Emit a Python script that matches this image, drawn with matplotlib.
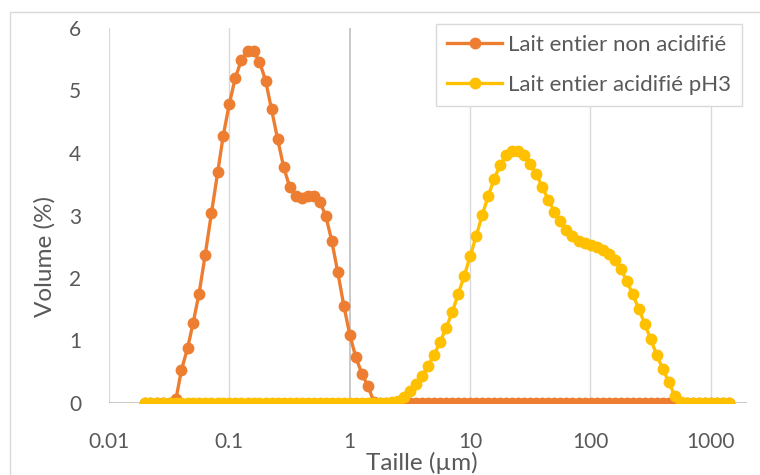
import matplotlib.pyplot as plt
from matplotlib.patches import Rectangle

plt.rcParams['font.family'] = ['Lato', 'DejaVu Sans']

# Mastersizer size classes (um)
taille = [0.020, 0.022, 0.025, 0.028, 0.032, 0.036, 0.040, 0.045, 0.050, 0.056,
          0.063, 0.071, 0.080, 0.089, 0.100, 0.112, 0.126, 0.142, 0.159, 0.178,
          0.200, 0.224, 0.252, 0.283, 0.317, 0.356, 0.399, 0.448, 0.502, 0.564,
          0.632, 0.710, 0.796, 0.893, 1.002, 1.125, 1.262, 1.416, 1.589, 1.783,
          2.000, 2.244, 2.518, 2.825, 3.170, 3.557, 3.991, 4.477, 5.024, 5.637,
          6.325, 7.096, 7.962, 8.934, 10.024, 11.247, 12.619, 14.159, 15.887, 17.825,
          20.000, 22.440, 25.179, 28.251, 31.698, 35.566, 39.905, 44.774, 50.238, 56.368,
          63.246, 70.963, 79.621, 89.337, 100.237, 112.468, 126.191, 141.589, 158.866, 178.250,
          200.000, 224.404, 251.785, 282.508, 316.979, 355.656, 399.052, 447.744, 502.377, 563.677,
          632.456, 709.627, 796.214, 893.367, 1002.374, 1124.683, 1261.915, 1415.892]

# Volume (%) - lait entier non acidifie
non_acidifie = [0, 0, 0, 0, 0, 0.06, 0.53, 0.88, 1.28, 1.75,
                2.37, 3.04, 3.69, 4.28, 4.79, 5.20, 5.49, 5.63, 5.63, 5.46,
                5.16, 4.70, 4.22, 3.77, 3.46, 3.31, 3.28, 3.32, 3.32, 3.22,
                3.00, 2.59, 2.09, 1.56, 1.09, 0.73, 0.47, 0.27, 0.02, 0,
                0, 0, 0, 0, 0, 0, 0, 0, 0, 0,
                0, 0, 0, 0, 0, 0, 0, 0, 0, 0,
                0, 0, 0, 0, 0, 0, 0, 0, 0, 0,
                0, 0, 0, 0, 0, 0, 0, 0, 0, 0,
                0, 0, 0, 0, 0, 0, 0, 0, 0, 0,
                0, 0, 0, 0, 0, 0, 0, 0]

# Volume (%) - lait entier acidifie pH3
acidifie_ph3 = [0, 0, 0, 0, 0, 0, 0, 0, 0, 0,
                0, 0, 0, 0, 0, 0, 0, 0, 0, 0,
                0, 0, 0, 0, 0, 0, 0, 0, 0, 0,
                0, 0, 0, 0, 0, 0, 0, 0, 0, 0,
                0, 0.01, 0.04, 0.09, 0.19, 0.30, 0.44, 0.59, 0.77, 0.98,
                1.20, 1.45, 1.74, 2.03, 2.35, 2.67, 3.01, 3.31, 3.59, 3.81,
                3.97, 4.04, 4.03, 3.97, 3.83, 3.66, 3.45, 3.25, 3.06, 2.91,
                2.77, 2.67, 2.60, 2.56, 2.53, 2.49, 2.45, 2.38, 2.29, 2.15,
                1.96, 1.74, 1.51, 1.27, 1.02, 0.77, 0.54, 0.34, 0.11, 0.01,
                0, 0, 0, 0, 0, 0, 0, 0]

decades = [0.01, 0.1, 1, 10, 100, 1000]
decade_labels = ['0.01', '0.1', '1', '10', '100', '1000']

text_color = '#595959'

fig = plt.figure(figsize=(7.6, 4.75), dpi=100)
ax = fig.add_axes([109 / 760, 1 - 403 / 475, 638 / 760, 375 / 475])

# chart area border
fig.patches.append(Rectangle((10 / 760, -0.1), 1.2, 1 - 12 / 475 + 0.1,
                             transform=fig.transFigure, fill=False,
                             edgecolor='#d9d9d9', linewidth=1))

ax.plot(taille, non_acidifie, color='#ED7D31', marker='o', markersize=7.5,
        linewidth=2.4, label='Lait entier non acidifié', zorder=3)
ax.plot(taille, acidifie_ph3, color='#FFC000', marker='o', markersize=7.5,
        linewidth=2.4, label='Lait entier acidifié pH3', zorder=4)

ax.set_xscale('log')
ax.set_xlim(0.01, 2000)
ax.set_ylim(0, 6)
ax.set_xticks(decades)
ax.set_xticklabels(decade_labels)
ax.minorticks_off()
ax.set_yticks(range(7))

for d in decades:
    if d != 1:
        ax.axvline(d, color='#d9d9d9', linewidth=1, zorder=1)
# vertical axis crosses at 1
ax.axvline(1, color='#bfbfbf', linewidth=1.2, zorder=1)
ax.axhline(0, color='#bfbfbf', linewidth=1.2, zorder=1)

for s in ax.spines.values():
    s.set_visible(False)
ax.tick_params(axis='both', length=0, labelsize=15, colors=text_color)
ax.tick_params(axis='y', pad=20)
ax.tick_params(axis='x', pad=21)

ax.set_xlabel('Taille (µm)', fontsize=17.5, color=text_color)
ax.set_ylabel('Volume (%)', fontsize=17.5, color=text_color)
ax.xaxis.set_label_coords(0.49, -0.16)
ax.xaxis.label.set_va('center')
ax.yaxis.set_label_coords(-0.10, 0.39)
ax.yaxis.label.set_va('center')

leg = ax.legend(loc='upper right', bbox_to_anchor=(742 / 760, 1 - 24 / 475),
                bbox_transform=fig.transFigure, borderaxespad=0, fontsize=16,
                frameon=True, fancybox=False, edgecolor='#d9d9d9', framealpha=1,
                handlelength=2.5, handletextpad=0.25, labelspacing=0.9,
                borderpad=0.5)
leg.get_frame().set_linewidth(1)
for t in leg.get_texts():
    t.set_color(text_color)

fig.savefig('out.png', dpi=100)
